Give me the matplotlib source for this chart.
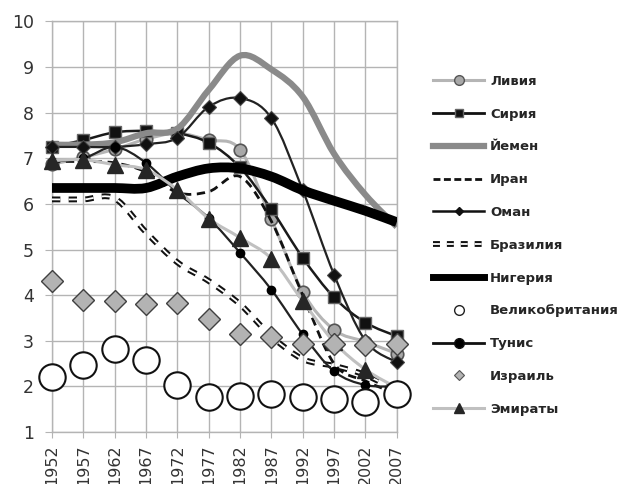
import matplotlib
matplotlib.use('Agg')
import matplotlib.pyplot as plt
import numpy as np
from matplotlib.path import Path
from matplotlib.patches import PathPatch
from matplotlib.lines import Line2D
from matplotlib.legend_handler import HandlerTuple

plt.rcParams['lines.scale_dashes'] = False
plt.rcParams['font.family'] = ['DejaVu Sans']

# categories (years)
years = ['1952', '1957', '1962', '1967', '1972', '1977', '1982', '1987', '1992', '1997', '2002', '2007']

# total fertility rate
libya = [6.87, 7.02, 7.2, 7.42, 7.55, 7.4, 7.19, 5.67, 4.07, 3.24, 2.98, 2.72]
syria = [7.25, 7.4, 7.57, 7.6, 7.55, 7.34, 6.8, 5.88, 4.82, 3.95, 3.4, 3.1]
yemen = [7.3, 7.3, 7.35, 7.55, 7.65, 8.5, 9.25, 8.95, 8.35, 7.1, 6.2, 5.5]
iran = [6.93, 6.93, 6.9, 6.7, 6.25, 6.27, 6.6, 5.62, 4.0, 2.5, 2.12, 1.83]
oman = [7.25, 7.25, 7.25, 7.31, 7.45, 8.13, 8.32, 7.88, 6.3, 4.45, 3.0, 2.53]
brazil = [6.1, 6.1, 6.12, 5.38, 4.72, 4.31, 3.8, 3.1, 2.6, 2.45, 2.25, 1.9]
nigeria = [6.35, 6.35, 6.35, 6.35, 6.6, 6.78, 6.78, 6.6, 6.3, 6.07, 5.85, 5.6]
uk = [2.2, 2.48, 2.81, 2.57, 2.03, 1.76, 1.78, 1.84, 1.76, 1.72, 1.65, 1.84]
tunisia = [6.93, 7.0, 7.25, 6.9, 6.25, 5.69, 4.93, 4.12, 3.14, 2.33, 2.03, 2.0]
israel = [4.3, 3.89, 3.87, 3.8, 3.82, 3.47, 3.15, 3.08, 2.93, 2.93, 2.91, 2.92]
emirates = [6.95, 6.97, 6.86, 6.75, 6.31, 5.68, 5.26, 4.8, 3.87, 2.97, 2.37, 1.97]


def smooth_path(x, y):
    # Excel-like smoothed line: cubic Bezier segments through the points
    pts = np.column_stack([x, y]).astype(float)
    n = len(pts)
    verts = [pts[0]]
    codes = [Path.MOVETO]
    for i in range(n - 1):
        p0 = pts[max(i - 1, 0)]
        p1 = pts[i]
        p2 = pts[i + 1]
        p3 = pts[min(i + 2, n - 1)]
        verts += [p1 + (p2 - p0) / 6, p2 - (p3 - p1) / 6, p2]
        codes += [Path.CURVE4] * 3
    return Path(verts, codes)


fig = plt.figure(figsize=(6.19, 4.84), dpi=100)
ax = fig.add_axes([0.084, 0.1074, 0.557, 0.8482])
x = np.arange(len(years))


def curve(vals, z, **kw):
    p = PathPatch(smooth_path(x, vals), fill=False, zorder=z,
                  capstyle='butt', joinstyle='round', **kw)
    ax.add_patch(p)


# Ливия
curve(libya, 3, edgecolor='#b5b5b5', lw=2.2)
ax.plot(x, libya, ls='none', marker='o', ms=9, mfc='#a8a8a8', mec='#555555', mew=1.2, zorder=3.1, clip_on=False)
# Сирия
curve(syria, 4, edgecolor='#1a1a1a', lw=1.8)
ax.plot(x, syria, ls='none', marker='s', ms=8.5, mfc='#111111', mec='#666666', mew=1, zorder=4.1, clip_on=False)
# Йемен
curve(yemen, 5, edgecolor='#8a8a8a', lw=4.5)
# Иран
curve(iran, 6, edgecolor='#111111', lw=2, linestyle=(0, (6, 4)))
# Оман
curve(oman, 7, edgecolor='#222222', lw=1.6)
ax.plot(x, oman, ls='none', marker='D', ms=7, mfc='#111111', mec='#444444', mew=0.8, zorder=7.1, clip_on=False)
# Бразилия (double dashed)
curve(brazil, 8, edgecolor='#111111', lw=4.2, linestyle=(0, (6, 6)))
curve(brazil, 8.05, edgecolor='white', lw=1.3, linestyle=(0, (6, 6)))
# Нигерия
curve(nigeria, 9, edgecolor='#000000', lw=7)
# Тунис
curve(tunisia, 10, edgecolor='#222222', lw=1.6)
ax.plot(x, tunisia, ls='none', marker='o', ms=6, mfc='#000000', mec='#000000', zorder=10.1, clip_on=False)
# Эмираты
curve(emirates, 11, edgecolor='#c0c0c0', lw=2.2)
ax.plot(x, emirates, ls='none', marker='^', ms=11, mfc='#262626', mec='#262626', zorder=11.1, clip_on=False)
# Великобритания
ax.plot(x, uk, ls='none', marker='o', ms=19, mfc='white', mec='#111111', mew=1.5, zorder=12, clip_on=False)
# Израиль
ax.plot(x, israel, ls='none', marker='D', ms=11, mfc='#b3b3b3', mec='#404040', mew=1, zorder=13, clip_on=False)

ax.set_xlim(0, len(years) - 1)
ax.set_ylim(1, 10)
ax.set_xticks(x)
ax.set_xticklabels(years, rotation=90)
ax.set_yticks(range(1, 11))
ax.grid(True, color='#b4b4b4', lw=1)
ax.set_axisbelow(True)
for s in ax.spines.values():
    s.set_color('#b4b4b4')
    s.set_linewidth(1)
ax.tick_params(axis='y', length=5, color='#b4b4b4', pad=8, labelsize=12.5, labelcolor='#333333')
ax.tick_params(axis='x', length=4, color='#b4b4b4', pad=5, labelsize=11.5, labelcolor='#333333')

# legend proxies
h_libya = Line2D([], [], color='#b5b5b5', lw=2.2, marker='o', ms=7, mfc='#a8a8a8', mec='#555555')
h_syria = Line2D([], [], color='#111111', lw=2, marker='s', ms=6, mfc='#111111', mec='#666666')
h_yemen = Line2D([], [], color='#8a8a8a', lw=4.5)
h_iran = Line2D([], [], color='#111111', lw=2, ls=(0, (5, 2.5)))
h_oman = Line2D([], [], color='#111111', lw=1.8, marker='D', ms=4.5, mfc='#111111')
h_br1 = Line2D([], [], color='#111111', lw=4.2, ls=(0, (5, 5)))
h_br2 = Line2D([], [], color='white', lw=1.3, ls=(0, (5, 5)))
h_nigeria = Line2D([], [], color='#000000', lw=5)
h_uk = Line2D([], [], ls='none', marker='o', ms=7, mfc='white', mec='#222222', mew=1)
h_tunisia = Line2D([], [], color='#111111', lw=2, marker='o', ms=7, mfc='#000000')
h_israel = Line2D([], [], ls='none', marker='D', ms=5.5, mfc='#b3b3b3', mec='#555555', mew=0.8)
h_emirates = Line2D([], [], color='#c0c0c0', lw=2.2, marker='^', ms=7, mfc='#262626', mec='#262626')

handles = [h_libya, h_syria, h_yemen, h_iran, h_oman, (h_br1, h_br2), h_nigeria,
           h_uk, h_tunisia, h_israel, h_emirates]
labels = ['Ливия', 'Сирия', 'Йемен', 'Иран', 'Оман', 'Бразилия', 'Нигерия',
          'Великобритания', 'Тунис', 'Израиль', 'Эмираты']
leg = fig.legend(handles, labels, loc='upper left', bbox_to_anchor=(0.68, 0.87),
                 frameon=False, handlelength=3.9, handletextpad=0.45, labelspacing=1.5,
                 prop={'size': 9.5, 'weight': 'bold'}, numpoints=1,
                 handler_map={tuple: HandlerTuple(ndivide=1)})
for t in leg.get_texts():
    t.set_color('#262626')

fig.savefig('out.png', dpi=100)
